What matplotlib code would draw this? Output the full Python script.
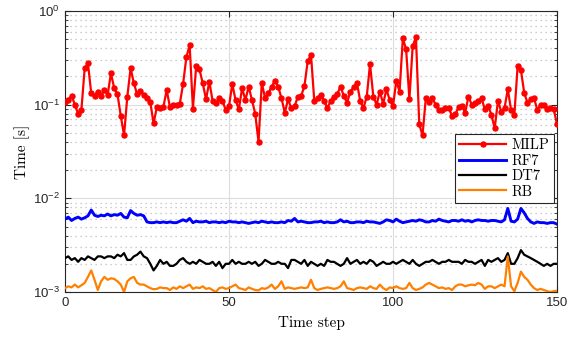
import numpy as np
import matplotlib
matplotlib.use("Agg")
import matplotlib.pyplot as plt
from matplotlib.ticker import LogLocator, FixedLocator, FuncFormatter, NullFormatter

plt.rcParams['mathtext.fontset'] = 'custom'
plt.rcParams['mathtext.rm'] = 'Liberation Sans'
plt.rcParams['mathtext.it'] = 'Liberation Sans:italic'
plt.rcParams['font.family'] = ['Liberation Sans', 'DejaVu Sans']

steps = np.arange(0, 151)

milp = [0.107,0.112,0.125,0.100,0.080,0.088,0.245,0.276,0.132,0.125,
        0.138,0.124,0.143,0.127,0.216,0.150,0.129,0.076,0.047,0.122,
        0.245,0.169,0.129,0.140,0.127,0.117,0.107,0.063,0.094,0.092,
        0.095,0.143,0.094,0.100,0.100,0.102,0.166,0.320,0.434,0.091,
        0.259,0.238,0.169,0.114,0.176,0.110,0.105,0.117,0.110,0.088,
        0.096,0.166,0.112,0.089,0.150,0.112,0.156,0.112,0.080,0.040,
        0.171,0.117,0.132,0.156,0.180,0.156,0.117,0.082,0.114,0.092,
        0.096,0.122,0.124,0.158,0.292,0.339,0.110,0.117,0.127,0.110,
        0.092,0.110,0.122,0.130,0.156,0.124,0.105,0.138,0.154,0.171,
        0.110,0.092,0.122,0.272,0.122,0.100,0.138,0.102,0.146,0.112,
        0.096,0.180,0.138,0.510,0.390,0.114,0.423,0.524,0.062,0.047,
        0.117,0.107,0.117,0.100,0.088,0.087,0.092,0.092,0.076,0.079,
        0.094,0.097,0.082,0.122,0.100,0.105,0.110,0.117,0.089,0.097,
        0.078,0.056,0.110,0.084,0.092,0.146,0.088,0.078,0.259,0.234,
        0.134,0.105,0.114,0.117,0.088,0.100,0.100,0.089,0.092,0.089,
        0.062]

rf7_ms = [6.0,6.3,5.8,6.1,6.3,6.0,6.2,6.5,7.5,6.6,
          6.4,6.6,6.5,6.8,6.5,6.7,6.6,6.9,6.3,6.2,
          7.4,6.9,6.6,6.7,6.5,5.6,5.5,5.5,5.6,5.5,
          5.6,5.5,5.6,5.5,5.5,5.7,5.9,5.7,6.1,5.5,
          5.7,5.6,5.6,5.7,5.5,5.6,5.6,5.5,5.6,5.5,
          5.7,5.6,5.6,5.5,5.6,5.5,5.4,5.5,5.6,5.5,
          5.7,5.6,5.5,5.6,5.5,5.5,5.6,5.5,5.8,5.7,
          6.1,5.6,5.7,5.6,5.5,5.5,5.6,5.6,5.7,5.5,
          5.6,5.5,5.5,5.6,5.9,5.6,5.7,5.5,5.5,5.6,
          5.6,5.5,5.7,5.6,5.6,5.5,5.4,5.6,5.9,5.8,
          5.6,6.0,5.7,5.5,5.6,5.7,5.8,5.7,5.9,5.8,
          5.6,5.6,5.8,5.7,6.0,5.8,5.7,5.6,5.8,5.8,
          5.7,5.9,5.7,5.8,5.6,5.8,5.9,5.8,5.8,5.7,
          5.8,5.8,5.7,5.6,5.9,7.8,5.7,5.6,6.0,7.8,
          7.0,6.1,5.6,5.4,5.6,5.5,5.5,5.4,5.5,5.5,
          5.3]

dt7_ms = [2.3,2.4,2.2,2.3,2.1,2.3,2.2,2.4,2.3,2.2,
          2.4,2.4,2.3,2.4,2.4,2.3,2.5,2.4,2.6,2.2,
          2.2,2.4,2.5,2.7,2.4,2.3,2.0,1.7,1.9,2.2,
          2.0,2.1,1.9,1.9,2.0,2.2,2.3,2.1,2.0,2.1,
          2.0,2.2,2.1,2.0,2.0,2.1,1.9,2.1,1.8,2.0,
          2.0,2.2,2.0,2.1,2.0,2.0,2.1,2.0,2.1,1.9,
          2.0,2.2,2.1,2.0,2.0,2.1,2.0,2.0,1.8,2.2,
          2.2,2.1,2.0,2.2,1.9,2.1,2.0,1.9,2.0,1.9,
          2.2,2.1,2.1,2.0,1.9,2.0,2.3,2.0,2.1,2.2,
          2.0,2.1,2.0,2.2,2.1,1.9,2.0,2.1,2.0,2.0,
          2.1,2.0,2.1,2.2,2.1,2.0,2.2,2.0,1.9,2.0,
          2.1,2.1,2.2,2.1,2.0,2.1,2.1,2.2,2.1,2.1,
          2.1,2.0,2.2,2.1,2.1,2.0,2.1,2.2,1.9,2.2,
          2.1,2.2,2.3,2.1,2.2,2.6,2.0,2.0,2.3,2.8,
          2.5,2.4,2.3,2.2,2.1,2.0,1.9,2.0,1.9,2.0,
          2.0]

rb_ms = [1.10,1.15,1.12,1.20,1.12,1.18,1.25,1.45,1.70,1.35,
         1.05,1.30,1.45,1.35,1.40,1.38,1.30,1.20,1.00,1.30,
         1.40,1.45,1.25,1.20,1.20,1.15,1.10,1.07,1.08,1.12,
         1.10,1.10,1.05,1.12,1.08,1.15,1.10,1.15,1.20,1.08,
         1.12,1.10,1.15,1.08,1.10,1.05,1.00,1.10,1.12,1.08,
         1.10,1.15,1.20,1.10,1.08,1.05,1.12,1.08,1.05,1.04,
         1.10,1.08,1.12,1.20,1.08,1.15,1.30,1.08,1.12,1.10,
         1.08,1.10,1.12,1.10,1.12,1.35,1.10,1.05,1.08,1.10,
         1.12,1.10,1.08,1.10,1.15,1.30,1.10,1.08,1.05,1.10,
         1.12,1.10,1.08,1.15,1.10,1.08,1.20,1.10,1.05,1.12,
         1.10,1.15,1.10,1.08,1.10,1.25,1.10,1.05,1.08,1.12,
         1.20,1.25,1.20,1.15,1.10,1.12,1.08,1.10,1.05,1.15,
         1.20,1.20,1.15,1.18,1.20,1.18,1.25,1.20,1.08,1.15,
         1.15,1.10,1.15,1.20,1.15,2.40,1.15,1.02,1.25,1.65,
         1.45,1.35,1.20,1.10,1.05,1.08,1.05,1.02,1.00,1.02,
         1.03]

labels = ['MILP', 'RF7', 'DT7', 'RB']
colors = ['#FF0000', '#0000FF', '#000000', '#FF8000']
x_ticks = [0, 50, 100, 150]

fig = plt.figure(figsize=(5.73, 3.38), dpi=100)
ax = fig.add_axes([65/573, 1-292/338, 492/573, 281/338])

ax.plot(steps, milp, color=colors[0], lw=1.6, marker='o', ms=3.6, label=labels[0], zorder=5)
ax.plot(steps, np.array(rf7_ms)*1e-3, color=colors[1], lw=2.1, label=labels[1], zorder=4)
ax.plot(steps, np.array(dt7_ms)*1e-3, color=colors[2], lw=1.6, label=labels[2], zorder=4)
ax.plot(steps, np.array(rb_ms)*1e-3, color=colors[3], lw=1.6, label=labels[3], zorder=4)

ax.set_yscale('log')
ax.set_ylim(1e-3, 1e0)
ax.set_xlim(0, 150)
ax.xaxis.set_major_locator(FixedLocator(x_ticks))
ax.yaxis.set_major_locator(LogLocator(base=10, numticks=10))
ax.yaxis.set_minor_locator(LogLocator(base=10, subs=np.arange(2, 10), numticks=20))
ax.yaxis.set_minor_formatter(NullFormatter())
ax.yaxis.set_major_formatter(FuncFormatter(lambda v, p: r'$10^{%d}$' % int(round(np.log10(v)))))

ax.grid(True, which='major', color='#dcdcdc', lw=0.8, ls='-')
ax.grid(True, which='minor', axis='y', color='#bdbdbd', lw=0.9, ls=(0, (1, 3)))
ax.set_axisbelow(True)

ax.tick_params(which='both', direction='in', top=True, right=True, colors='#262626', labelsize=9.5)
ax.tick_params(which='major', length=4)
ax.tick_params(which='minor', length=2.5)
for s in ax.spines.values():
    s.set_color('#262626')
    s.set_linewidth(0.8)

ax.set_xlabel('Time step', fontfamily='cmr10', fontsize=11, labelpad=5)
ax.set_ylabel('Time [s]', fontfamily='cmr10', fontsize=11, labelpad=2)

leg = ax.legend(loc='upper right', bbox_to_anchor=(0.994, 0.562),
                prop={'family': 'cmr10', 'size': 10.5}, frameon=True, fancybox=False,
                edgecolor='#262626', framealpha=1, handlelength=3.2, borderpad=0.3,
                labelspacing=0.12, handletextpad=0.4, borderaxespad=0)
leg.get_frame().set_linewidth(0.8)

fig.savefig('out.png', dpi=100)
